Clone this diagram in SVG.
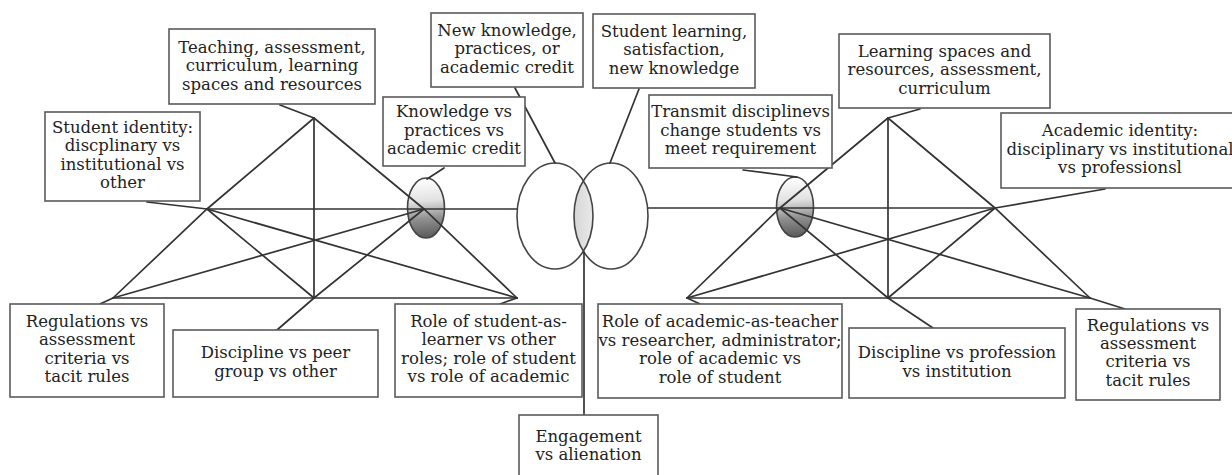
<svg xmlns="http://www.w3.org/2000/svg" width="1232" height="475" viewBox="0 0 1232 475">
<style>
.bx{fill:#fff;stroke:#5a5a5a;stroke-width:1.6}
.t{font-family:"DejaVu Serif","Liberation Serif",serif;font-size:16.5px;fill:#222;text-anchor:middle}
.ln{stroke:#333;stroke-width:1.7;fill:none;stroke-linecap:round}
.big{fill:none;stroke:#444;stroke-width:1.6}
.sm{stroke:#444;stroke-width:1.6}
</style>
<defs>
<linearGradient id="gsm" x1="0.45" y1="0" x2="0.5" y2="1">
<stop offset="0" stop-color="#ffffff"/>
<stop offset="0.38" stop-color="#e2e2e2"/>
<stop offset="0.68" stop-color="#909090"/>
<stop offset="1" stop-color="#5a5a5a"/>
</linearGradient>
<linearGradient id="glens" x1="0" y1="0" x2="1" y2="0">
<stop offset="0" stop-color="#d6d6d6"/>
<stop offset="0.5" stop-color="#fbfbfb"/>
<stop offset="1" stop-color="#e8e8e8"/>
</linearGradient>
<clipPath id="clipL"><ellipse cx="555" cy="216" rx="38" ry="53"/></clipPath>
</defs>
<rect width="1232" height="475" fill="#fff"/>

<g id="ellipses">
<ellipse id="objL" cx="426" cy="208" rx="18.5" ry="30" fill="url(#gsm)" class="sm"/>
<ellipse id="objR" cx="795" cy="207" rx="18.5" ry="30" fill="url(#gsm)" class="sm"/>
<ellipse cx="611" cy="216" rx="37" ry="53" fill="url(#glens)" clip-path="url(#clipL)"/>
<ellipse id="outL" cx="555" cy="216" rx="38" ry="53" class="big"/>
<ellipse id="outR" cx="611" cy="216" rx="37" ry="53" class="big"/>
</g>

<g id="connectors" class="ln">
<polyline points="314,118 207,209 113,298"/>
<polyline points="314,118 424,209 517,298"/>
<line x1="207" y1="209" x2="517" y2="209"/>
<line x1="314" y1="118" x2="314" y2="298"/>
<line x1="207" y1="209" x2="314" y2="298"/>
<line x1="424" y1="209" x2="314" y2="298"/>
<line x1="207" y1="209" x2="517" y2="298"/>
<line x1="424" y1="209" x2="113" y2="298"/>
<line x1="113" y1="298" x2="517" y2="298"/>
<line x1="314" y1="118" x2="280" y2="105"/>
<line x1="207" y1="209" x2="147" y2="202"/>
<line x1="427" y1="179" x2="444" y2="168"/>
<line x1="113" y1="298" x2="100" y2="304"/>
<line x1="314" y1="298" x2="277" y2="330"/>
<line x1="517" y1="298" x2="500" y2="304"/>
<line x1="555" y1="163" x2="515" y2="88"/>
<line x1="610" y1="163" x2="639" y2="89"/>
<line x1="584" y1="252" x2="584" y2="415"/>
<polyline points="888,118 780,208 687,298"/>
<polyline points="888,118 995,208 1090,298"/>
<line x1="648" y1="208" x2="995" y2="208"/>
<line x1="888" y1="118" x2="888" y2="298"/>
<line x1="780" y1="208" x2="888" y2="298"/>
<line x1="995" y1="208" x2="888" y2="298"/>
<line x1="780" y1="208" x2="1090" y2="298"/>
<line x1="995" y1="208" x2="687" y2="298"/>
<line x1="687" y1="298" x2="1090" y2="298"/>
<line x1="888" y1="118" x2="920" y2="109"/>
<line x1="797" y1="177" x2="743" y2="170"/>
<line x1="995" y1="208" x2="1105" y2="189"/>
<line x1="687" y1="298" x2="700" y2="304"/>
<line x1="888" y1="298" x2="933" y2="328"/>
<line x1="1090" y1="298" x2="1125" y2="309"/>
</g>

<g id="n-teaching"><rect class="bx" x="169" y="29" width="206" height="75"/>
<text class="t"><tspan x="272" y="52.5">Teaching, assessment,</tspan><tspan x="272" y="71">curriculum, learning</tspan><tspan x="272" y="89.5">spaces and resources</tspan></text></g>

<g id="n-student-identity"><rect class="bx" x="45" y="112" width="155" height="89"/>
<text class="t"><tspan x="122.5" y="132.7">Student identity:</tspan><tspan x="122.5" y="151.1">discplinary vs</tspan><tspan x="122.5" y="169.5">institutional vs</tspan><tspan x="122.5" y="187.9">other</tspan></text></g>

<g id="n-knowledge"><rect class="bx" x="383" y="97" width="142" height="69"/>
<text class="t"><tspan x="454" y="117.3">Knowledge vs</tspan><tspan x="454" y="135.6">practices vs</tspan><tspan x="454" y="153.9">academic credit</tspan></text></g>

<g id="n-new-knowledge"><rect class="bx" x="431" y="13" width="152" height="74"/>
<text class="t"><tspan x="507" y="35.8">New knowledge,</tspan><tspan x="507" y="54.2">practices, or</tspan><tspan x="507" y="72.6">academic credit</tspan></text></g>

<g id="n-student-learning"><rect class="bx" x="593" y="14" width="162" height="74"/>
<text class="t"><tspan x="674" y="36.8">Student learning,</tspan><tspan x="674" y="55.2">satisfaction,</tspan><tspan x="674" y="73.6">new knowledge</tspan></text></g>

<g id="n-transmit"><rect class="bx" x="649" y="95" width="183" height="73"/>
<text class="t"><tspan x="740.5" y="117.3">Transmit disciplinevs</tspan><tspan x="740.5" y="135.7">change students vs</tspan><tspan x="740.5" y="154.1">meet requirement</tspan></text></g>

<g id="n-learning-spaces"><rect class="bx" x="839" y="34" width="211" height="74"/>
<text class="t"><tspan x="944.5" y="56.8">Learning spaces and</tspan><tspan x="944.5" y="75.2">resources, assessment,</tspan><tspan x="944.5" y="93.6">curriculum</tspan></text></g>

<g id="n-academic-identity"><rect class="bx" x="1001" y="113" width="240" height="75"/>
<text class="t"><tspan x="1120" y="136.2">Academic identity:</tspan><tspan x="1120" y="154.6">disciplinary vs institutional</tspan><tspan x="1120" y="173">vs professionsl</tspan></text></g>

<g id="n-regulations-left"><rect class="bx" x="10" y="304" width="154" height="93"/>
<text class="t"><tspan x="87" y="326.9">Regulations vs</tspan><tspan x="87" y="345.3">assessment</tspan><tspan x="87" y="363.7">criteria vs</tspan><tspan x="87" y="382.1">tacit rules</tspan></text></g>

<g id="n-discipline-peer"><rect class="bx" x="173" y="330" width="205" height="67"/>
<text class="t"><tspan x="275.5" y="358.4">Discipline vs peer</tspan><tspan x="275.5" y="376.8">group vs other</tspan></text></g>

<g id="n-role-student"><rect class="bx" x="395" y="304" width="187" height="93"/>
<text class="t"><tspan x="488.5" y="326.9">Role of student-as-</tspan><tspan x="488.5" y="345.3">learner vs other</tspan><tspan x="488.5" y="363.7">roles; role of student</tspan><tspan x="488.5" y="382.1">vs role of academic</tspan></text></g>

<g id="n-role-academic"><rect class="bx" x="598" y="304" width="244" height="94"/>
<text class="t"><tspan x="720" y="327.4">Role of academic-as-teacher</tspan><tspan x="720" y="345.8">vs researcher, administrator;</tspan><tspan x="720" y="364.2">role of academic vs</tspan><tspan x="720" y="382.6">role of student</tspan></text></g>

<g id="n-discipline-profession"><rect class="bx" x="849" y="328" width="216" height="70"/>
<text class="t"><tspan x="957" y="358.3">Discipline vs profession</tspan><tspan x="957" y="376.7">vs institution</tspan></text></g>

<g id="n-regulations-right"><rect class="bx" x="1076" y="309" width="144" height="91"/>
<text class="t"><tspan x="1148" y="330.6">Regulations vs</tspan><tspan x="1148" y="349">assessment</tspan><tspan x="1148" y="367.4">criteria vs</tspan><tspan x="1148" y="385.8">tacit rules</tspan></text></g>

<g id="n-engagement"><rect class="bx" x="519" y="415" width="139" height="70"/>
<text class="t"><tspan x="588.5" y="441.7">Engagement</tspan><tspan x="588.5" y="460">vs alienation</tspan></text></g>
</svg>
